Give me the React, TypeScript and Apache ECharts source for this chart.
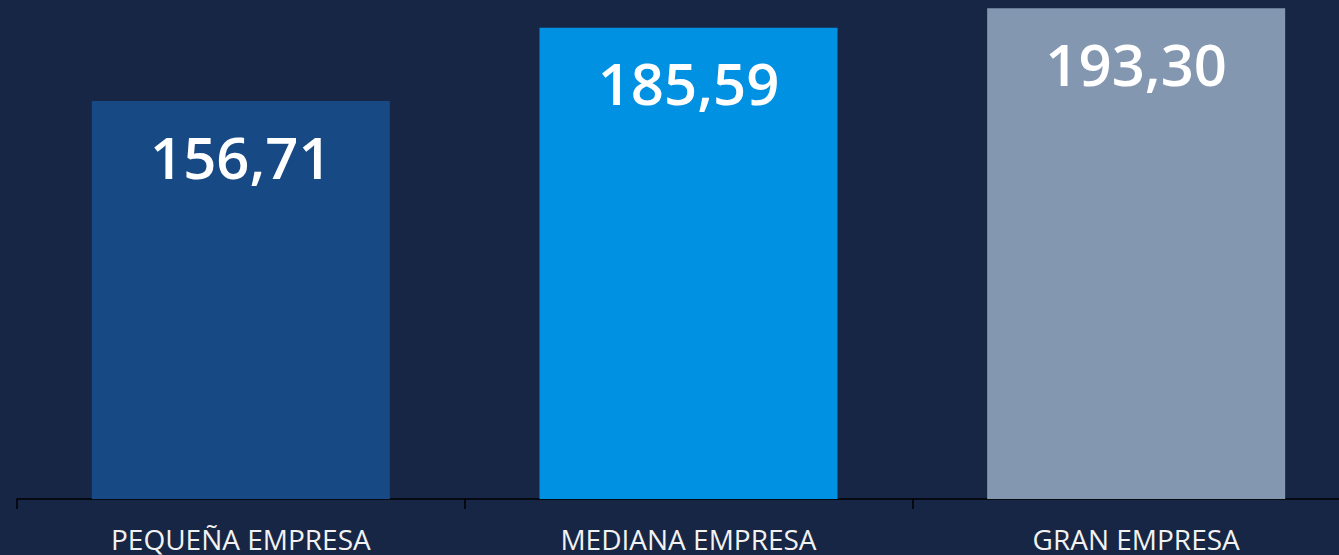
import React, { useEffect, useRef } from "react";
import * as echarts from "echarts";

const categories = ["PEQUEÑA EMPRESA", "MEDIANA EMPRESA", "GRAN EMPRESA"];
const values = [156.71, 185.59, 193.3];
const barColors = ["#174A85", "#0091E3", "#8497B0"];

export default function App() {
  const ref = useRef<HTMLDivElement>(null);
  useEffect(() => {
    if (!ref.current) return;
    const chart = echarts.init(ref.current, null, { renderer: "svg" });
    chart.setOption({
      animation: false,
      backgroundColor: "#172644",
      grid: {
        left: 17,
        top: 0,
        width: 1343,
        height: 499,
        containLabel: false,
        outerBoundsMode: "none",
      },
      xAxis: {
        type: "category",
        data: categories,
        axisLine: { show: true, lineStyle: { color: "#000000", width: 1.5 } },
        axisTick: { show: true, length: 10, lineStyle: { color: "#000000", width: 1.5 } },
        axisLabel: {
          color: "#F2F2F2",
          fontFamily: "Open Sans",
          fontSize: 28,
          lineHeight: 24,
          margin: 28,
        },
      },
      yAxis: {
        type: "value",
        min: 0,
        max: 196.5,
        show: false,
        splitLine: { show: false },
      },
      series: [
        {
          type: "bar",
          barWidth: 298,
          data: values.map((v, i) => ({ value: v, itemStyle: { color: barColors[i] } })),
          label: {
            show: true,
            position: "insideTop",
            distance: 26,
            color: "#FFFFFF",
            fontFamily: "Open Sans",
            fontWeight: 600,
            fontSize: 58,
            formatter: (p: any) => p.value.toFixed(2).replace(".", ","),
          },
        },
      ],
    });
    return () => chart.dispose();
  }, []);
  return (
    <div
      ref={ref}
      style={{ position: "absolute", left: 0, top: 0, width: 1339, height: 555 }}
    />
  );
}
